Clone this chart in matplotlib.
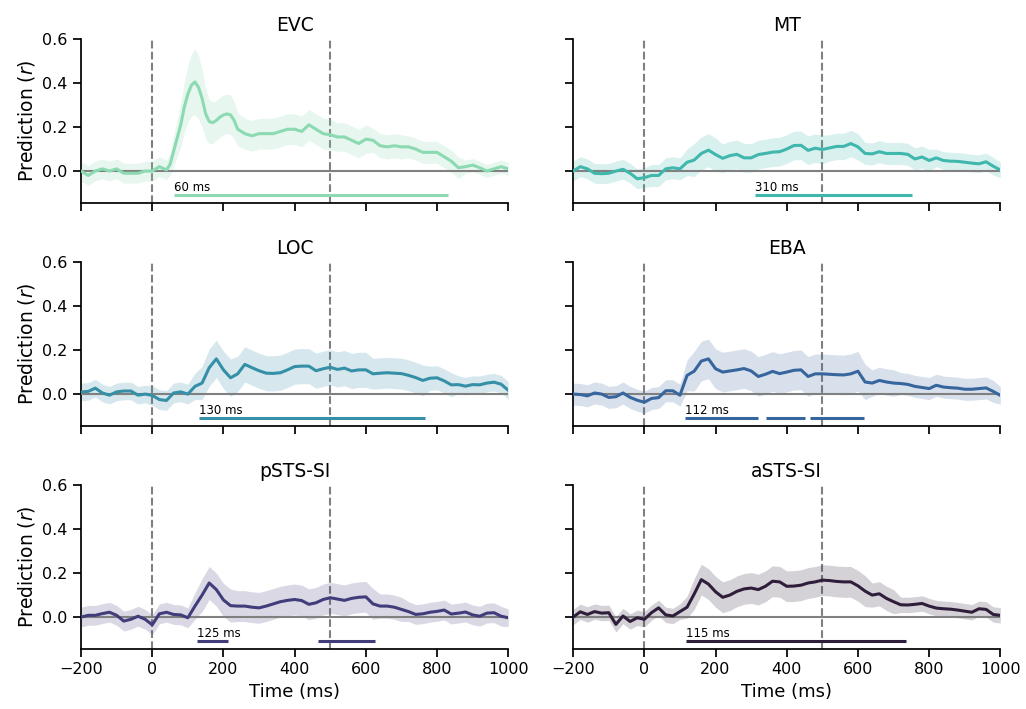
import numpy as np
import matplotlib
matplotlib.use("Agg")
import matplotlib.pyplot as plt
import seaborn as sns

sns.set_theme(style="ticks", context="notebook")
plt.rcParams['font.family'] = ['DejaVu Sans']
for k in ['text.color', 'axes.labelcolor', 'axes.edgecolor', 'xtick.color', 'ytick.color']:
    plt.rcParams[k] = 'black'

times = np.arange(-200, 1001, 20)

roi_names = ["EVC", "MT", "LOC", "EBA", "pSTS-SI", "aSTS-SI"]

# EVC is sampled more finely around its peak
evc_times = [-200, -180, -160, -140, -120, -100, -80, -60, -40, -20,
             0, 20, 40, 50, 60, 70, 80, 90, 100, 110, 120, 130, 140, 150,
             160, 170, 180, 190, 200, 210, 220, 230, 240, 260, 280, 300,
             320, 340, 360, 380, 400, 420, 440, 460, 480, 500, 520, 540,
             560, 580, 600, 620, 640, 660, 680, 700, 720, 740, 760, 780,
             800, 820, 840, 860, 880, 900, 920, 940, 960, 980, 1000]
evc_mean = [0.00, -0.02, 0.00, 0.01, 0.00, 0.01, -0.01, -0.01, -0.01, 0.00,
            0.00, 0.02, 0.005, 0.03, 0.09, 0.15, 0.21, 0.29, 0.35, 0.39, 0.405, 0.38, 0.33, 0.26,
            0.225, 0.22, 0.23, 0.245, 0.255, 0.26, 0.255, 0.23, 0.19, 0.17, 0.16, 0.17,
            0.17, 0.17, 0.18, 0.19, 0.19, 0.18, 0.21, 0.19, 0.17, 0.165, 0.155, 0.155,
            0.14, 0.125, 0.145, 0.14, 0.115, 0.11, 0.115, 0.11, 0.11, 0.10, 0.085, 0.085,
            0.085, 0.065, 0.045, 0.015, 0.02, 0.027, 0.015, 0.00, 0.01, 0.02,
            0.01]
evc_err = [0.045, 0.045, 0.045, 0.045, 0.045, 0.045, 0.045, 0.045, 0.045, 0.045,
           0.045, 0.045, 0.045, 0.05, 0.07, 0.085, 0.10, 0.115, 0.13, 0.14, 0.15, 0.145, 0.13, 0.115,
           0.10, 0.095, 0.09, 0.09, 0.09, 0.09, 0.09, 0.085, 0.075, 0.07, 0.07, 0.07,
           0.07, 0.07, 0.07, 0.07, 0.07, 0.07, 0.07, 0.07, 0.07, 0.07, 0.065, 0.065,
           0.065, 0.065, 0.065, 0.055, 0.055, 0.055, 0.055, 0.055, 0.05, 0.05, 0.05, 0.05,
           0.05, 0.05, 0.05, 0.05, 0.03, 0.03, 0.03, 0.03, 0.03, 0.03,
           0.03]

mt_mean = [0.0, 0.02, 0.01, -0.01, -0.012, -0.01, 0.0, 0.008, -0.01, -0.035,
           -0.03, -0.02, -0.02, 0.01, 0.015, 0.01, 0.04, 0.05, 0.08, 0.095,
           0.075, 0.058, 0.07, 0.076, 0.06, 0.06, 0.075, 0.08, 0.086, 0.088,
           0.10, 0.116, 0.117, 0.094, 0.104, 0.098, 0.105, 0.112, 0.112, 0.125,
           0.11, 0.08, 0.078, 0.088, 0.08, 0.08, 0.08, 0.076, 0.055, 0.064,
           0.048, 0.06, 0.048, 0.045, 0.044, 0.04, 0.036, 0.033, 0.042, 0.022,
           0.005]
mt_err = [0.045, 0.045, 0.045, 0.045, 0.045, 0.045, 0.045, 0.045, 0.045, 0.045,
          0.045, 0.05, 0.05, 0.05, 0.05, 0.05, 0.06, 0.075, 0.075, 0.075,
          0.075, 0.065, 0.065, 0.065, 0.065, 0.065, 0.065, 0.065, 0.065, 0.065,
          0.065, 0.065, 0.065, 0.065, 0.065, 0.065, 0.06, 0.06, 0.06, 0.06,
          0.06, 0.05, 0.05, 0.05, 0.05, 0.05, 0.05, 0.05, 0.05, 0.05,
          0.05, 0.04, 0.04, 0.04, 0.04, 0.04, 0.04, 0.04, 0.04, 0.04,
          0.035]

loc_mean = [0.01, 0.012, 0.027, 0.005, -0.005, 0.01, 0.014, 0.014, -0.005, 0.0,
            -0.006, -0.025, -0.029, 0.005, 0.01, 0.0, 0.035, 0.05, 0.12, 0.16,
            0.11, 0.074, 0.092, 0.135, 0.12, 0.106, 0.095, 0.094, 0.097, 0.11,
            0.125, 0.127, 0.127, 0.106, 0.115, 0.122, 0.112, 0.118, 0.105, 0.11,
            0.11, 0.092, 0.095, 0.097, 0.095, 0.093, 0.085, 0.075, 0.062, 0.072,
            0.074, 0.06, 0.042, 0.043, 0.036, 0.043, 0.042, 0.05, 0.054, 0.045,
            0.017]
loc_err = [0.04, 0.04, 0.04, 0.04, 0.04, 0.04, 0.04, 0.04, 0.04, 0.04,
           0.045, 0.045, 0.045, 0.045, 0.045, 0.045, 0.06, 0.075, 0.085, 0.085,
           0.085, 0.085, 0.08, 0.08, 0.08, 0.08, 0.08, 0.08, 0.08, 0.08,
           0.08, 0.08, 0.08, 0.08, 0.08, 0.08, 0.08, 0.08, 0.08, 0.08,
           0.08, 0.07, 0.07, 0.07, 0.07, 0.07, 0.07, 0.07, 0.07, 0.055,
           0.055, 0.055, 0.055, 0.04, 0.04, 0.04, 0.04, 0.04, 0.04, 0.04,
           0.04]

eba_mean = [0.0, -0.002, -0.008, 0.005, 0.0, -0.015, -0.012, 0.005, -0.015, -0.028,
            -0.037, -0.02, -0.016, 0.015, 0.015, -0.005, 0.085, 0.104, 0.15, 0.16,
            0.115, 0.10, 0.105, 0.11, 0.116, 0.105, 0.08, 0.09, 0.103, 0.093,
            0.10, 0.108, 0.11, 0.08, 0.092, 0.092, 0.09, 0.088, 0.087, 0.092,
            0.104, 0.055, 0.05, 0.062, 0.055, 0.05, 0.048, 0.044, 0.035, 0.03,
            0.025, 0.04, 0.032, 0.029, 0.027, 0.022, 0.022, 0.025, 0.028, 0.012,
            -0.006]
eba_err = [0.05, 0.05, 0.05, 0.05, 0.05, 0.05, 0.05, 0.05, 0.05, 0.05,
           0.05, 0.05, 0.05, 0.05, 0.05, 0.05, 0.07, 0.09, 0.09, 0.09,
           0.09, 0.09, 0.09, 0.09, 0.09, 0.09, 0.09, 0.09, 0.09, 0.09,
           0.09, 0.09, 0.09, 0.09, 0.09, 0.09, 0.09, 0.09, 0.09, 0.09,
           0.09, 0.08, 0.06, 0.06, 0.06, 0.06, 0.05, 0.05, 0.05, 0.05,
           0.05, 0.05, 0.05, 0.05, 0.05, 0.05, 0.05, 0.05, 0.05, 0.05,
           0.04]

psts_mean = [0.0, 0.008, 0.008, 0.016, 0.022, 0.008, -0.018, -0.01, 0.004, -0.01,
             -0.035, 0.015, 0.022, 0.012, 0.01, -0.003, 0.05, 0.10, 0.155, 0.125,
             0.078, 0.052, 0.05, 0.05, 0.045, 0.042, 0.05, 0.06, 0.07, 0.076,
             0.08, 0.075, 0.058, 0.065, 0.08, 0.088, 0.082, 0.076, 0.085, 0.09,
             0.092, 0.06, 0.05, 0.05, 0.045, 0.035, 0.025, 0.012, 0.015, 0.022,
             0.026, 0.032, 0.014, 0.018, 0.023, 0.01, 0.004, 0.018, 0.02, 0.004,
             -0.003]
psts_err = [0.045, 0.045, 0.045, 0.045, 0.045, 0.045, 0.045, 0.045, 0.045, 0.045,
            0.045, 0.045, 0.045, 0.045, 0.045, 0.045, 0.06, 0.075, 0.075, 0.075,
            0.075, 0.075, 0.07, 0.07, 0.07, 0.07, 0.07, 0.07, 0.07, 0.07,
            0.07, 0.07, 0.07, 0.07, 0.07, 0.07, 0.07, 0.07, 0.07, 0.07,
            0.07, 0.07, 0.055, 0.055, 0.055, 0.055, 0.045, 0.045, 0.045, 0.045,
            0.045, 0.045, 0.045, 0.045, 0.045, 0.045, 0.045, 0.045, 0.045, 0.045,
            0.04]

asts_mean = [0.0, 0.024, 0.012, 0.025, 0.018, 0.02, -0.033, 0.005, -0.02, -0.003,
             -0.01, 0.02, 0.042, 0.01, 0.005, 0.025, 0.045, 0.105, 0.17, 0.15,
             0.115, 0.09, 0.10, 0.117, 0.128, 0.132, 0.125, 0.14, 0.163, 0.16,
             0.14, 0.141, 0.145, 0.155, 0.16, 0.168, 0.166, 0.162, 0.16, 0.16,
             0.142, 0.118, 0.10, 0.106, 0.085, 0.07, 0.056, 0.055, 0.058, 0.062,
             0.05, 0.041, 0.038, 0.036, 0.032, 0.027, 0.022, 0.038, 0.035, 0.012,
             0.008]
asts_err = [0.035, 0.035, 0.035, 0.035, 0.035, 0.035, 0.035, 0.035, 0.035, 0.035,
            0.035, 0.035, 0.035, 0.035, 0.035, 0.035, 0.05, 0.07, 0.07, 0.07,
            0.07, 0.07, 0.07, 0.07, 0.07, 0.07, 0.07, 0.07, 0.07, 0.07,
            0.07, 0.07, 0.07, 0.07, 0.07, 0.07, 0.07, 0.07, 0.07, 0.07,
            0.07, 0.07, 0.055, 0.055, 0.055, 0.055, 0.035, 0.035, 0.035, 0.035,
            0.035, 0.035, 0.035, 0.035, 0.035, 0.035, 0.035, 0.035, 0.035, 0.035,
            0.035]

time_axes = [evc_times, times, times, times, times, times]
means = [evc_mean, mt_mean, loc_mean, eba_mean, psts_mean, asts_mean]
errs = [evc_err, mt_err, loc_err, eba_err, psts_err, asts_err]

# significant clusters (start, end) in ms, and onset labels
sig_clusters = [
    [(60, 832)],
    [(312, 753)],
    [(131, 766)],
    [(114, 318), (341, 452), (465, 617)],
    [(125, 212), (466, 627)],
    [(116, 736)],
]
onset_labels = ["60 ms", "310 ms", "130 ms", "112 ms", "125 ms", "115 ms"]

colors = sns.color_palette("mako_r", 6)

fig, axes = plt.subplots(3, 2, figsize=(10.26, 7.09), dpi=100, sharex=True, sharey=True)
fig.subplots_adjust(left=0.079, right=0.975, top=0.945, bottom=0.0846,
                    wspace=0.152, hspace=0.36)

sig_y = -0.11
for i, ax in enumerate(axes.flat):
    c = colors[i]
    t = np.array(time_axes[i])
    m = np.array(means[i])
    e = np.array(errs[i])
    ax.axvline(0, color='gray', ls='--', lw=1.5, zorder=1)
    ax.axvline(500, color='gray', ls='--', lw=1.5, zorder=1)
    ax.fill_between(t, m - e, m + e, color=c, alpha=0.2, lw=0, zorder=2)
    ax.axhline(0, color='gray', lw=1.5, zorder=3)
    ax.plot(t, m, color=c, lw=2.2, zorder=4)
    for (s, en) in sig_clusters[i]:
        ax.plot([s, en], [sig_y, sig_y], color=c, lw=2.2, solid_capstyle='butt', zorder=4)
    s0 = sig_clusters[i][0][0]
    ax.text(s0, sig_y + 0.008, onset_labels[i], fontsize=8.5, ha='left', va='bottom')
    ax.set_title(roi_names[i], fontsize=13.5)
    ax.set_xlim(-200, 1000)
    ax.set_ylim(-0.145, 0.6)
    ax.set_yticks([0.0, 0.2, 0.4, 0.6])
    ax.set_xticks([-200, 0, 200, 400, 600, 800, 1000])
    ax.tick_params(labelsize=11.5)
    if i % 2 == 0:
        ax.set_ylabel("Prediction ($r$)", fontsize=13.5)
    if i >= 4:
        ax.set_xlabel("Time (ms)", fontsize=13)
    sns.despine(ax=ax)

fig.savefig("out.png", dpi=100)
